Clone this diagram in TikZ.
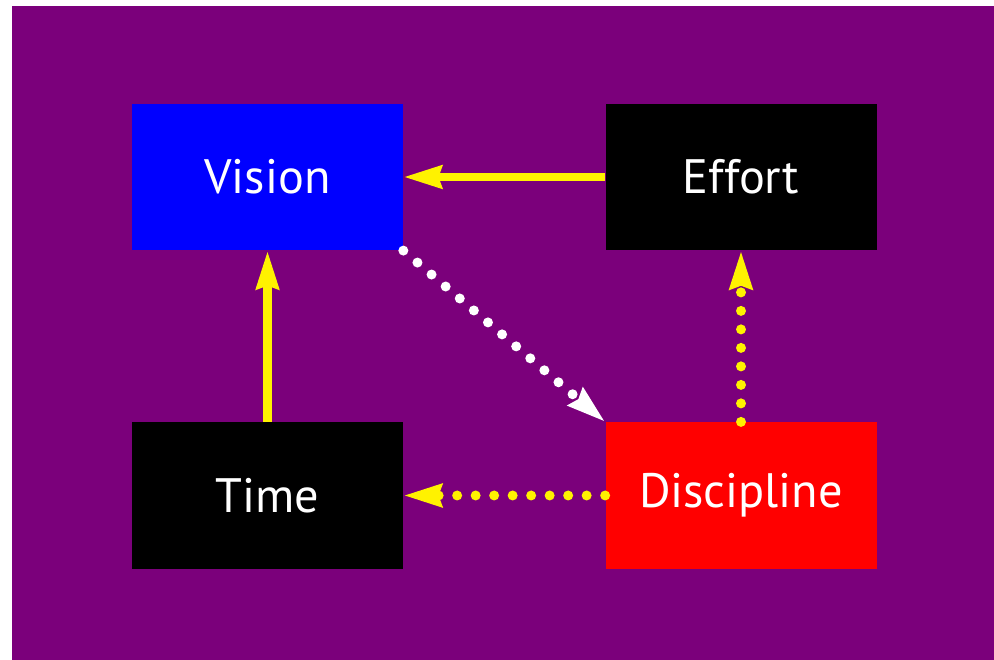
\documentclass[tikz,border=0pt]{standalone}
\usepackage{fontspec}
\setmainfont{PT Sans}
\usepackage{tikz}
\usetikzlibrary{arrows.meta, positioning}
\definecolor{bgpurple}{RGB}{123,0,123}
\tikzstyle{box} = [rectangle, minimum width=5.42cm, minimum height=2.93cm, inner sep=0pt, text centered, text=white, font=\fontsize{27.5}{33}\selectfont]
\tikzstyle{solidarrow} = [line width=0.17cm, draw=yellow, -{Stealth[length=0.76cm, width=0.44cm, inset=0.06cm, fill=yellow]}]
\tikzstyle{dotarrow} = [line width=0.2cm, line cap=round, dash pattern=on 0pt off 0.37cm, -{Stealth[length=0.76cm, width=0.44cm, inset=0.06cm]}]

\begin{document}
\begin{tikzpicture}[node distance=6.37cm]

\useasboundingbox (0,0) rectangle (19.88,13.2);
\fill [bgpurple] (0.24,0) rectangle (19.88,13.08);

\node (vision) [box, fill=blue] at (5.35,9.66) {Vision};
\node (effort) [box, fill=black, right of=vision, xshift=3.1cm] {Effort};
\node (time) [box, fill=black, below of=vision] {Time};
\node (discipline) [box, fill=red, below of=effort] {Discipline};

\draw [solidarrow] (effort) -- (vision);
\draw [solidarrow] (time) -- (vision);
\draw [dotarrow, white] (vision.south east) -- (discipline.north west);
\draw [dotarrow, yellow] (discipline) -- (time);
\draw [dotarrow, yellow] (discipline) -- (effort);

\end{tikzpicture}
\end{document}
